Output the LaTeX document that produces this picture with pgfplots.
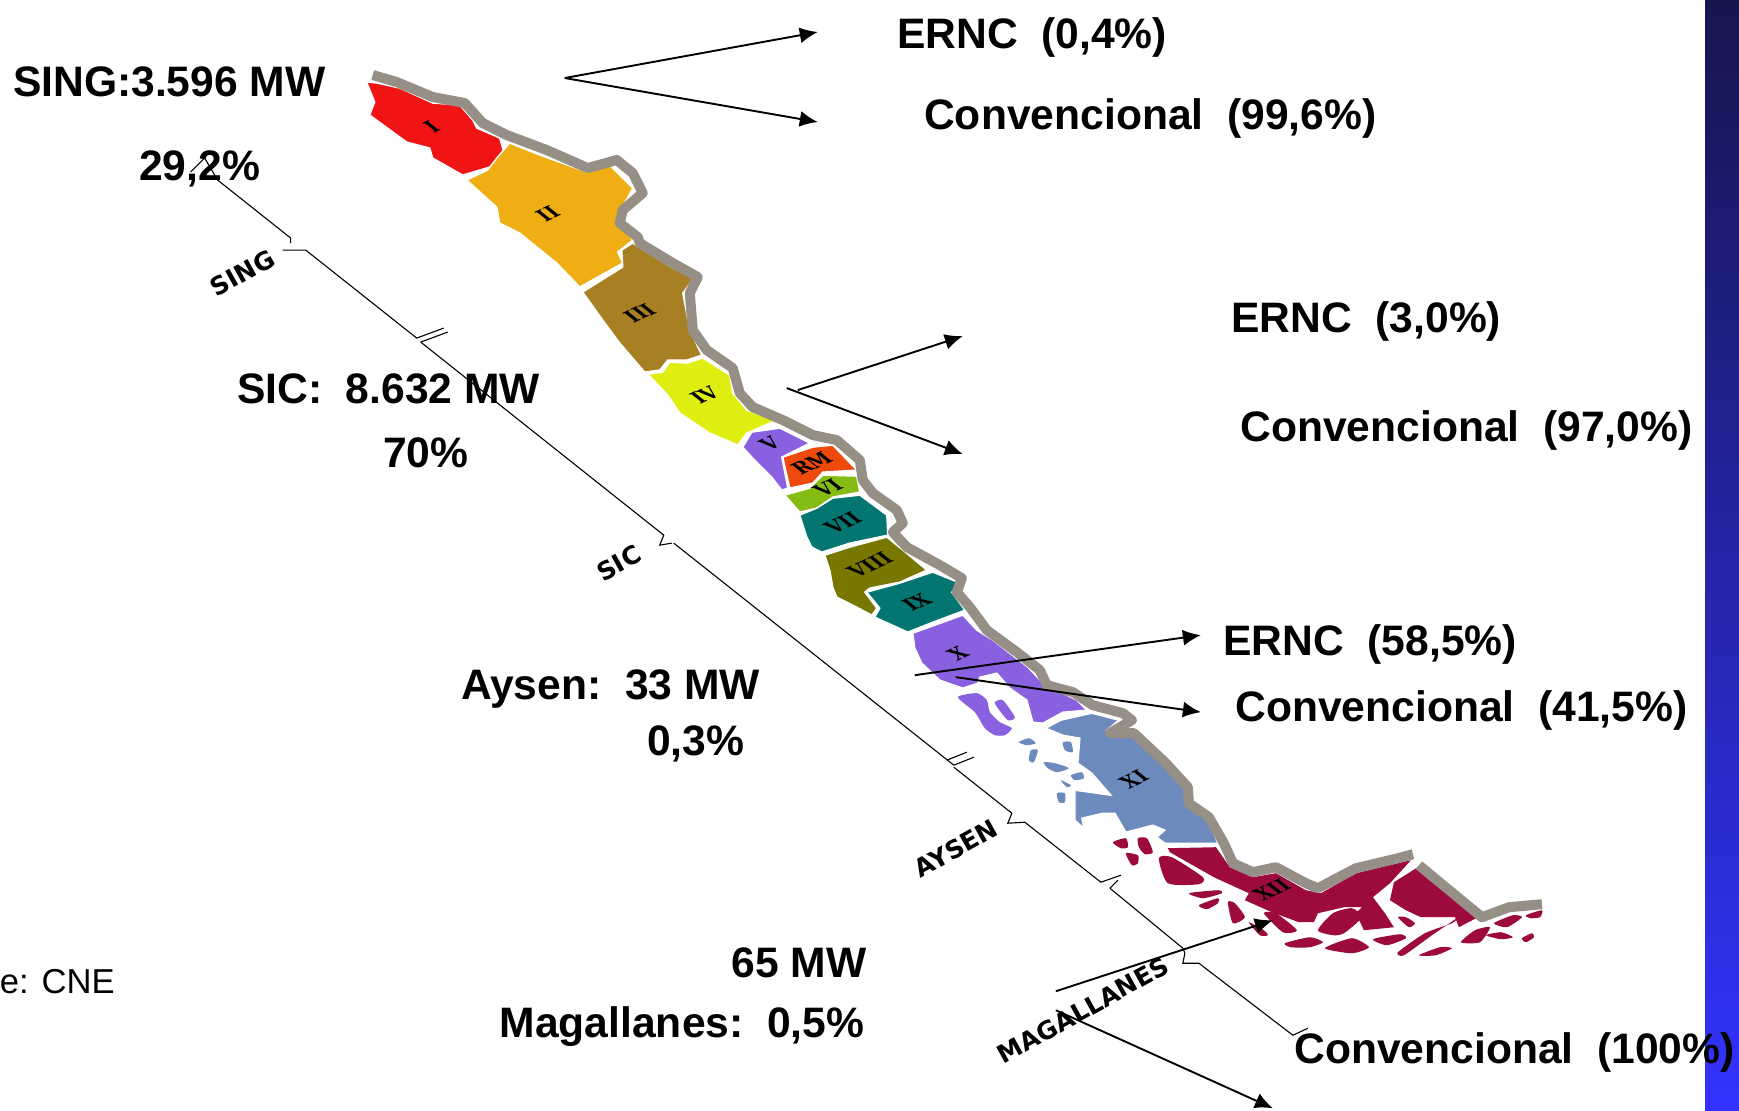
\documentclass[border=0pt]{standalone}
\usepackage{fontspec}
\setmainfont{Liberation Sans}
\newfontfamily\romanfont{DejaVu Serif}
\newfontfamily\scalefont{DejaVu Sans}
\usepackage{pgfplots}
\pgfplotsset{compat=1.18}
\usetikzlibrary{arrows.meta}

\definecolor{cI}{HTML}{F01414}
\definecolor{cII}{HTML}{EFAE14}
\definecolor{cIII}{HTML}{A88024}
\definecolor{cIV}{HTML}{DEEE10}
\definecolor{cV}{HTML}{8860E0}
\definecolor{cRM}{HTML}{EE4A0C}
\definecolor{cVI}{HTML}{85BC14}
\definecolor{cVII}{HTML}{047672}
\definecolor{cVIII}{HTML}{787800}
\definecolor{cXI}{HTML}{6D8ABD}
\definecolor{cXII}{HTML}{9C0A3E}
\definecolor{andes}{HTML}{968F85}
\definecolor{bandtop}{HTML}{16164E}
\definecolor{bandbot}{HTML}{3333FF}

\pgfplotsset{
  reg/.style={fill=#1,draw=white,line width=0.7pt,forget plot},
  isl/.style={fill=#1,draw=none,forget plot,smooth cycle,tension=0.4},
  arr/.style={black,line width=0.95pt,-{Latex[length=9pt,width=8pt]},forget plot},
  scl/.style={black,line width=0.55pt,forget plot},
}
\tikzset{
  big/.style={font=\fontsize{21.3}{24}\selectfont\bfseries,inner sep=0pt},
  rom/.style={font=\fontsize{#1}{10}\romanfont\bfseries\selectfont,transform shape,rotate=25,xslant=-0.5,inner sep=0pt},
  rom/.default=9.5,
  sca/.style={font=\fontsize{#1}{12}\scalefont\bfseries\selectfont,rotate=29,inner sep=0pt},
}

\begin{document}
\begin{tikzpicture}
\begin{axis}[
    hide axis,
    scale only axis,
    width=869.5pt, height=555pt,
    xmin=0, xmax=1739,
    ymin=0, ymax=1110,
    y dir=reverse,
    clip=true,
]
% blue band at the right
\addplot[draw=none,top color=bandtop,bottom color=bandbot,forget plot]
  coordinates {(1705,0)(1739,0)(1739,1110)(1705,1110)} -- cycle;

% regions
\addplot[reg=cI] coordinates {(367,82)(377,83)(400,88)(433,103)(460,105)(473,120)(477,128)(500,138)(504,152)(490,167)(463,175)(433,158)(430,148)(407,142)(370,115)(375,102)} -- cycle;
\addplot[reg=cII] coordinates {(467,180)(488,170)(497,158)(510,143)(540,155)(587,172)(610,165)(633,188)(617,218)(633,240)(618,252)(623,263)(580,287)(557,263)(520,233)(500,223)(497,207)} -- cycle;
\addplot[reg=cIII] coordinates {(583,292)(623,267)(622,250)(633,243)(673,268)(695,277)(683,293)(690,330)(702,355)(687,360)(668,360)(660,370)(645,372)(620,343)(603,320)} -- cycle;
\addplot[reg=cIV] coordinates {(648,374)(663,372)(670,362)(687,363)(703,358)(730,375)(733,393)(747,410)(777,420)(747,433)(738,445)(710,433)(680,413)(668,395)} -- cycle;
\addplot[reg=cV] coordinates {(743,447)(752,432)(780,428)(810,443)(782,457)(788,488)(782,490)(772,477)(753,458)} -- cycle;
\addplot[reg=cRM] coordinates {(783,457)(813,447)(833,445)(857,470)(823,472)(813,483)(790,488)} -- cycle;
\addplot[reg=cVI] coordinates {(785,495)(810,488)(823,475)(857,476)(860,492)(833,497)(817,508)(800,512)} -- cycle;
\addplot[reg=cVII] coordinates {(800,515)(817,508)(833,498)(860,495)(887,515)(888,535)(850,543)(822,552)(812,547)(807,537)} -- cycle;
\addplot[reg=cVIII] coordinates {(825,555)(850,547)(887,537)(903,550)(927,570)(900,582)(870,588)(865,592)(877,608)(872,615)(857,607)(837,597)(833,587)(830,570)} -- cycle;
\addplot[reg=cVII] coordinates {(867,592)(900,583)(933,572)(960,583)(952,592)(965,610)(933,622)(908,632)(875,617)(880,608)} -- cycle;
\addplot[reg=cV] coordinates {(913,633)(963,615)(977,630)(993,640)(1028,667)(1043,683)(1077,700)(1087,710)(1063,712)(1043,723)(1033,722)(1027,700)(1010,688)(997,673)(980,677)(978,683)(963,688)(940,680)(922,663)(915,648)} -- cycle;
\addplot[isl=cV] coordinates {(958,697)(977,693)(987,700)(990,712)(1000,722)(1012,728)(1005,735)(995,735)(985,728)(975,712)};
\addplot[isl=cV] coordinates {(995,702)(1003,700)(1015,717)(1008,720)(998,708)};

\addplot[reg=cXI] coordinates {(1046,728)(1061,720)(1092,713)(1119,720)(1107,730)(1132,733)(1165,762)(1188,787)(1188,803)(1207,817)(1218,843)(1165,843)(1157,837)(1165,830)(1153,825)(1126,832)(1115,813)(1103,813)(1082,818)(1084,828)(1075,820)(1075,790)(1111,795)(1092,773)(1078,763)(1080,738)(1063,735)} -- cycle;
\addplot[isl=cXI] coordinates {(1019,742)(1029,738)(1036,743)(1027,745)};
\addplot[isl=cXI] coordinates {(1063,742)(1071,742)(1073,752)(1065,750)};
\addplot[isl=cXI] coordinates {(1031,750)(1038,750)(1034,762)(1029,760)};
\addplot[isl=cXI] coordinates {(1044,762)(1055,763)(1069,768)(1057,772)(1048,768)};
\addplot[isl=cXI] coordinates {(1071,775)(1082,772)(1084,778)(1075,780)};
\addplot[isl=cXI] coordinates {(1061,780)(1071,785)(1067,787)};
\addplot[isl=cXI] coordinates {(1057,793)(1065,793)(1065,802)(1059,802)};

\addplot[reg=cXII,draw=none] coordinates {(1168,848)(1216,847)(1230,867)(1253,877)(1276,873)(1306,890)(1321,893)(1356,873)(1398,863)(1411,860)(1390,883)(1373,897)(1385,913)(1394,927)(1364,930)(1356,913)(1362,907)(1344,907)(1318,913)(1314,922)(1299,922)(1272,912)(1245,900)(1249,893)(1214,877)(1170,852)} -- cycle;
\addplot[reg=cXII,draw=none] coordinates {(1421,865)(1478,917)(1459,927)(1455,917)(1421,917)(1406,910)(1390,900)(1394,882)} -- cycle;
\addplot[isl=cXII] coordinates {(1318,930)(1333,913)(1352,908)(1362,917)(1344,933)(1333,935)};
\addplot[isl=cXII] coordinates {(1285,943)(1310,937)(1323,942)(1310,947)(1291,947)};
\addplot[isl=cXII] coordinates {(1325,948)(1352,938)(1369,947)(1352,953)};
\addplot[isl=cXII] coordinates {(1373,939)(1400,934)(1406,938)(1387,945)};
\addplot[isl=cXII] coordinates {(1398,952)(1425,933)(1452,923)(1457,918)(1432,935)(1404,955)};
\addplot[isl=cXII] coordinates {(1419,955)(1440,947)(1452,948)(1436,955)};
\addplot[isl=cXII] coordinates {(1461,942)(1475,930)(1490,927)(1480,942)};
\addplot[isl=cXII] coordinates {(1486,935)(1501,932)(1513,937)(1501,939)};
\addplot[isl=cXII] coordinates {(1494,923)(1513,915)(1522,917)(1507,927)};
\addplot[isl=cXII] coordinates {(1526,915)(1542,910)(1540,917)(1530,918)};
\addplot[isl=cXII] coordinates {(1522,938)(1532,933)(1534,937)(1526,942)};
\addplot[isl=cXII] coordinates {(1398,917)(1406,917)(1415,923)(1409,927)};
\addplot[isl=cXII] coordinates {(1113,842)(1126,838)(1128,847)(1121,848)};
\addplot[isl=cXII] coordinates {(1138,838)(1147,838)(1153,852)(1145,854)(1139,847)};
\addplot[isl=cXII] coordinates {(1126,853)(1138,855)(1138,863)(1132,865)};
\addplot[isl=cXII] coordinates {(1159,858)(1172,857)(1203,877)(1199,884)(1168,883)};
\addplot[isl=cXII] coordinates {(1189,893)(1218,890)(1222,893)(1203,898)};
\addplot[isl=cXII] coordinates {(1199,905)(1218,898)(1218,903)(1207,909)};
\addplot[isl=cXII] coordinates {(1228,902)(1235,903)(1245,917)(1233,923)};
\addplot[isl=cXII] coordinates {(1249,922)(1264,930)(1268,935)(1260,935)};
\addplot[isl=cXII] coordinates {(1264,913)(1276,913)(1297,930)(1283,932)};

% grey ridge along the eastern edge
\addplot[andes,line width=5pt,line join=round,forget plot] coordinates {(373,75)(397,82)(433,97)(465,103)(483,123)(507,135)(547,150)(588,168)(617,160)(633,173)(643,193)(623,210)(620,223)(638,237)(640,243)(673,263)(698,277)(690,293)(693,330)(707,350)(733,368)(740,393)(753,407)(783,420)(813,435)(837,440)(860,460)(863,480)(873,493)(897,510)(903,523)(893,532)(907,547)(940,565)(962,578)(957,592)(970,607)(987,630)(1017,652)(1040,670)(1047,685)(1073,692)(1093,705)(1123,713)(1132,720)(1110,733)(1134,733)(1165,762)(1188,787)(1189,803)(1209,817)(1224,843)(1233,863)(1253,872)(1276,867)(1306,883)(1318,888)(1356,868)(1398,858)(1413,854)};
\addplot[andes,line width=5pt,line join=round,forget plot] coordinates {(1419,865)(1482,917)(1509,907)(1542,904)};

% bracket line on the left
\addplot[scl] coordinates {(191,172)(205,158)(218,180)(291,238)(291,243)};
\addplot[scl] coordinates {(283,250)(300,250)(306,250)(417,338)(444,328)};
\addplot[scl] coordinates {(421,342)(448,332)};
\addplot[scl] coordinates {(421,342)(664,535)(660,545)(672,543)};
\addplot[scl] coordinates {(674,543)(954,765)};
\addplot[scl] coordinates {(947,760)(967,752)};
\addplot[scl] coordinates {(954,765)(974,757)};
\addplot[scl] coordinates {(954,767)(1012,813)(1008,823)(1025,822)(1101,882)(1121,875)};
\addplot[scl] coordinates {(1110,888)(1118,880)};
\addplot[scl] coordinates {(1110,888)(1183,948)(1185,953)(1183,963)(1199,963)(1293,1035)(1308,1028)};

% arrows
\addplot[arr] coordinates {(565,78)(818,32)};
\addplot[arr] coordinates {(565,78)(818,122)};
\addplot[arr] coordinates {(798,390)(963,336)};
\addplot[arr] coordinates {(787,388)(963,454)};
\addplot[arr] coordinates {(915,675)(1201,635)};
\addplot[arr] coordinates {(956,677)(1201,712)};
\addplot[arr] coordinates {(1056,991)(1273,920)};
\addplot[arr] coordinates {(1056,1010)(1273,1108)};

% region names
\node[rom] at (axis cs:432,127) {I};
\node[rom] at (axis cs:548,214) {II};
\node[rom] at (axis cs:640,313) {III};
\node[rom] at (axis cs:705,395) {IV};
\node[rom] at (axis cs:770,443) {V};
\node[rom] at (axis cs:812,463) {RM};
\node[rom] at (axis cs:828,488) {VI};
\node[rom] at (axis cs:843,523) {VII};
\node[rom] at (axis cs:870,565) {VIII};
\node[rom] at (axis cs:917,602) {IX};
\node[rom] at (axis cs:958,653) {X};
\node[rom] at (axis cs:1134,779) {XI};
\node[rom] at (axis cs:1272,890) {XII};

% names along the bracket line
\node[sca=12.5] at (axis cs:243,273) {SING};
\node[sca=12.5] at (axis cs:619,563) {SIC};
\node[sca=12.5] at (axis cs:956,848) {AYSEN};
\node[sca=12.5] at (axis cs:1083,1010) {MAGALLANES};

% capacity by system
\node[big,anchor=west] at (axis cs:13,82) {SING:3.596 MW};
\node[big] at (axis cs:200,169) {29,2\%};
\node[big,anchor=west] at (axis cs:237,389) {SIC:\ \ 8.632 MW};
\node[big] at (axis cs:426,453) {70\%};
\node[big,anchor=west] at (axis cs:461,689) {Aysen:\ \ 33 MW};
\node[big] at (axis cs:696,744) {0,3\%};
\node[big,anchor=east] at (axis cs:867,963) {65 MW};
\node[big,anchor=east] at (axis cs:865,1026) {Magallanes:\ \ 0,5\%};
\node[font=\fontsize{17.3}{20}\selectfont,inner sep=0pt,anchor=west] at (axis cs:0,981) {e: CNE};

% shares
\node[big,anchor=west] at (axis cs:897,37) {ERNC\ \ (0,4\%)};
\node[big,anchor=west] at (axis cs:924,118) {Convencional\ \ (99,6\%)};
\node[big,anchor=west] at (axis cs:1231,321) {ERNC\ \ (3,0\%)};
\node[big,anchor=west] at (axis cs:1240,430) {Convencional\ \ (97,0\%)};
\node[big,anchor=west] at (axis cs:1223,644) {ERNC\ \ (58,5\%)};
\node[big,anchor=west] at (axis cs:1235,710) {Convencional\ \ (41,5\%)};
\node[big,anchor=west] at (axis cs:1294,1052) {Convencional\ \ (100\%)};
\end{axis}
\end{tikzpicture}
\end{document}
